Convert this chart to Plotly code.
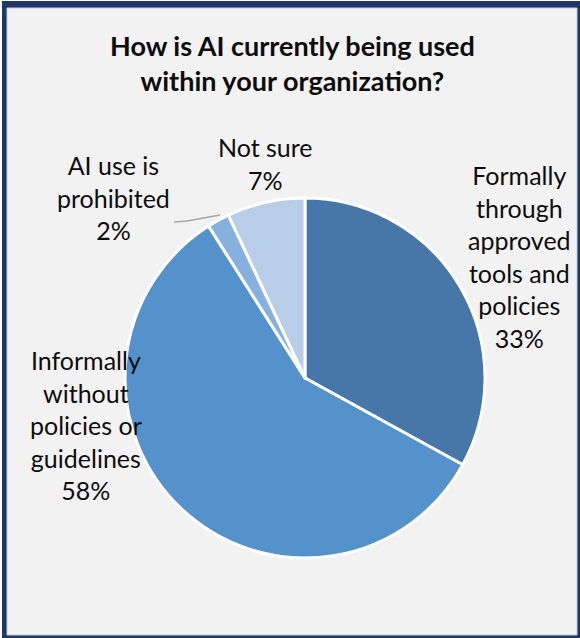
import plotly.graph_objects as go

W, H = 580, 638

categories = ["Formally through approved tools and policies",
              "Informally without policies or guidelines",
              "AI use is prohibited",
              "Not sure"]
values = [33, 58, 2, 7]
label_texts = ["Formally<br>through<br>approved<br>tools and<br>policies<br>33%",
               "Informally<br>without<br>policies or<br>guidelines<br>58%",
               "AI use is<br>prohibited<br>2%",
               "Not sure<br>7%"]
colors = ["#4677A8", "#5592CB", "#86B0DD", "#B8CDE7"]

title_text = "How is AI currently being used<br>within your organization?"

FONT = "Lato, Carlito, Calibri, sans-serif"


def px(x):
    return x / W


def py(y):
    return 1 - y / H


fig = go.Figure()
fig.add_trace(go.Pie(
    labels=categories,
    values=values,
    sort=False,
    direction="clockwise",
    rotation=0,
    textinfo="none",
    hoverinfo="label+percent",
    marker=dict(colors=colors, line=dict(color="white", width=3)),
    domain=dict(x=[px(125), px(485)], y=[py(558), py(198)]),
    showlegend=False,
))

# label annotation positions (pixel centers)
label_pos = [(519, 256), (86, 425), (113, 198), (265, 163)]
annotations = []
for txt, (x, y) in zip(label_texts, label_pos):
    annotations.append(dict(
        text=txt, x=px(x), y=py(y), xref="paper", yref="paper",
        xanchor="center", yanchor="middle", showarrow=False,
        align="center", font=dict(family=FONT, size=25, color="#0D0D0D")))
annotations.append(dict(
    text="<b>" + title_text.replace("<br>", "</b><br><b>") + "</b>",
    x=px(292), y=py(63), xref="paper", yref="paper",
    xanchor="center", yanchor="middle", showarrow=False, align="center",
    font=dict(family=FONT, size=27, color="#0D0D0D")))

shapes = [
    # navy frame
    dict(type="rect", xref="paper", yref="paper", layer="below",
         x0=px(2), x1=px(580), y0=py(638), y1=py(1),
         fillcolor="#1F3864", line=dict(width=0)),
    # inner background
    dict(type="rect", xref="paper", yref="paper", layer="below",
         x0=px(7), x1=px(577), y0=py(635), y1=py(8),
         fillcolor="#F2F2F2", line=dict(color="#C9CED8", width=1)),
    # leader line for small slice
    dict(type="path", xref="paper", yref="paper", layer="above",
         path=f"M {px(174)},{py(222)} L {px(187)},{py(221)} L {px(220)},{py(215)}",
         line=dict(color="#A6A6A6", width=1.5)),
]

fig.update_layout(
    width=W, height=H,
    margin=dict(l=0, r=0, t=0, b=0),
    paper_bgcolor="white",
    plot_bgcolor="white",
    annotations=annotations,
    shapes=shapes,
)

fig.write_html("out.html")
